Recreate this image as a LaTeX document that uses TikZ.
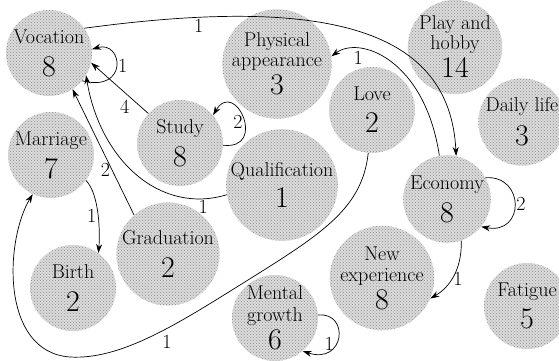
\documentclass[tikz,border=0pt]{standalone}
\usetikzlibrary{arrows.meta,patterns}
\newcommand{\numfont}{\fontsize{30}{30}\selectfont}
\newcommand{\topicfont}{\rmfamily\fontsize{20}{19}\selectfont\lineskiplimit=-50pt\relax}

\begin{document}
\begin{tikzpicture}[x=1pt, y=1pt,
    topic/.style={circle, minimum size=86pt, inner sep=0pt, align=center,
      preaction={fill=black!14}, pattern=crosshatch dots, pattern color=black!45,
      font=\topicfont},
    link/.style={line width=0.7pt, -{Stealth[length=9pt, width=6pt]}},
    weight/.style={font=\rmfamily\fontsize{20}{20}\selectfont, inner sep=1.5pt}]
  \useasboundingbox (0,0) rectangle (559,360);
  % Topics with their counts
  \node[topic] (voc) at (49,307) {Vocation\\[14pt]{\numfont 8}};
  \node[topic] (phys) at (277,296) {Physical\\[1pt]appearance\\[9pt]{\numfont 3}};
  \node[topic] (play) at (455,313) {Play and\\[1pt]hobby\\[9pt]{\numfont 14}};
  \node[topic] (study) at (180,217) {Study\\[14pt]{\numfont 8}};
  \node[topic] (love) at (372,250) {Love\\[13pt]{\numfont 2}};
  \node[topic] (daily) at (522,238) {Daily life\\[15pt]{\numfont 3}};
  \node[topic] (marr) at (51,205) {Marriage\\[14pt]{\numfont 7}};
  \node[topic] (qual) at (282,175) {Qualification\\[12pt]{\numfont 1}};
  \node[topic] (econ) at (447,161) {Economy\\[14pt]{\numfont 8}};
  \node[topic] (birth) at (73,72) {Birth\\[14pt]{\numfont 2}};
  \node[topic] (grad) at (168,106) {Graduation\\[14pt]{\numfont 2}};
  \node[topic] (newexp) at (382,82) {New\\[2pt]experience\\[9pt]{\numfont 8}};
  \node[topic] (mental) at (275,42) {Mental\\[3pt]growth\\[9pt]{\numfont 6}};
  \node[topic] (fatigue) at (527,54) {Fatigue\\[13pt]{\numfont 5}};
  % Weighted links
  \draw[link] (voc.35) .. controls (330,365) and (450,330) .. node[weight, pos=0.17, below] {1} (econ.78);
  \draw[link] (econ.100) .. controls (425,300) and (360,325) .. node[weight, pos=0.75, below] {1} (phys.8);
  \draw[link] (study.137) -- node[weight, pos=0.3, below left] {4} (voc.-13);
  \draw[link] (qual.190) .. controls (160,145) and (100,200) .. node[weight, pos=0.12, below] {1} (voc.-31);
  \draw[link] (grad.131) -- node[weight, pos=0.36, left] {2} (voc.-57);
  \draw[link] (marr.-36) .. controls (100,165) and (100,125) .. node[weight, midway, left] {1} (birth.54);
  \draw[link] (love.-95) .. controls (362,150) and (320,125) .. (240,75)
    .. controls (176,35) and (120,0) .. node[weight, pos=0.4, below=5pt] {1} (70,3)
    .. controls (0,8) and (5,120) .. (marr.-115);
  \draw[link] (econ.-71) .. controls (462,85) and (445,70) .. node[weight, midway, right] {1} (newexp.-23);
  % Self loops
  \draw[link] (voc.-40) .. controls (129,267) and (123,320) .. node[weight, midway, right] {1} (voc.5);
  \draw[link] (study.-3) .. controls (268,210) and (235,282) .. node[weight, pos=0.45, left] {2} (study.40);
  \draw[link] (econ.29) .. controls (525,185) and (525,125) .. node[weight, midway, right] {2} (econ.-39);
  \draw[link] (mental.4) .. controls (350,48) and (345,-5) .. node[weight, pos=0.6, left] {1} (mental.-50);
\end{tikzpicture}
\end{document}
